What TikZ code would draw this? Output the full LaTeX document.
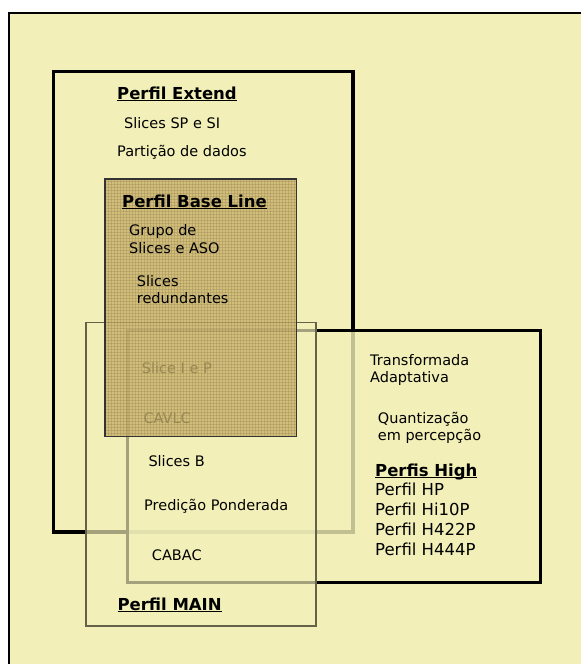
\documentclass[tikz,border=0pt]{standalone}
\usepackage{fontspec}
\setmainfont{DejaVu Sans}
\usepackage{xcolor}
\usetikzlibrary{positioning, patterns}

\definecolor{paper}{HTML}{F2F0B8}
\definecolor{basefill}{HTML}{C8B06A}
\definecolor{mainline}{HTML}{66624A}

\newcommand{\titul}[1]{\setbox0\hbox{#1}\rlap{\rule[-2.2pt]{\wd0}{1.1pt}}\box0}

\tikzset{
  txt/.style={anchor=base west, inner sep=0pt, font=\fontsize{14.5}{17.5}\selectfont},
  big/.style={anchor=base west, inner sep=0pt, font=\fontsize{16.5}{20}\selectfont},
  title/.style={anchor=base west, inner sep=0pt, font=\fontsize{16.5}{20}\selectfont\bfseries},
}

\begin{document}
\begin{tikzpicture}[x=1pt, y=-1pt]
  \useasboundingbox (0,0) rectangle (581,664);
  \clip (0,0) rectangle (581,664);
  \fill[white] (0,0) rectangle (581,664);
  \draw[line width=2pt, fill=paper] (9,13.3) rectangle (600,690);

  % caixas
  \draw[line width=3.6pt] (53.3,71.3) rectangle (353,531.7);
  \draw[line width=3pt, fill=paper, fill opacity=0.8] (127,330.7) rectangle (540.7,582.3);
  \draw[line width=1.4pt, draw=mainline, fill=paper, fill opacity=0.68] (86,322.3) rectangle (316,626);

  % Perfil MAIN
  \node[txt] (sliceip) at (141.7,373) {Slice I e P};
  \node[txt] (cavlc) at (143.3,423) {CAVLC};
  \node[txt] (slicesb) at (148.3,466.7) {Slices B};
  \node[txt] (predicao) at (144,510) {Predição Ponderada};
  \node[txt] (cabac) at (151.7,560) {CABAC};
  \node[title] (main) at (117.3,610) {\titul{Perfil MAIN}};

  % Perfis High
  \node[txt] (transf) at (370,365) {Transformada};
  \node[txt] (adapt) at (370,382.5) {Adaptativa};
  \node[txt] (quant) at (377.7,423) {Quantização};
  \node[txt] (percep) at (377.7,440.5) {em percepção};
  \node[title] (high) at (375,476) {\titul{Perfis High}};
  \node[big] (hp) at (375,495.7) {Perfil HP};
  \node[big] (hi10p) at (375,515.7) {Perfil Hi10P};
  \node[big] (h422p) at (375,535.7) {Perfil H422P};
  \node[big] (h444p) at (375,555.7) {Perfil H444P};

  % Perfil Base Line
  \fill[basefill, opacity=0.78] (105,179) rectangle (296.7,436.7);
  \fill[pattern=grid, pattern color=basefill!75!black, opacity=0.35] (105,179) rectangle (296.7,436.7);
  \draw[line width=1.2pt, draw=black!80] (105,179) rectangle (296.7,436.7);
  \node[title] (base) at (122,207) {\titul{Perfil Base Line}};
  \node[txt] (grupo) at (129,235.5) {Grupo de};
  \node[txt] (aso) at (129,253) {Slices e ASO};
  \node[txt] (slices) at (136.7,286.7) {Slices};
  \node[txt] (redund) at (136.7,303) {redundantes};

  % Perfil Extend
  \node[title] (extend) at (117,99) {\titul{Perfil Extend}};
  \node[txt] (spsi) at (124,128) {Slices SP e SI};
  \node[txt] (partic) at (117,156.5) {Partição de dados};
\end{tikzpicture}
\end{document}
